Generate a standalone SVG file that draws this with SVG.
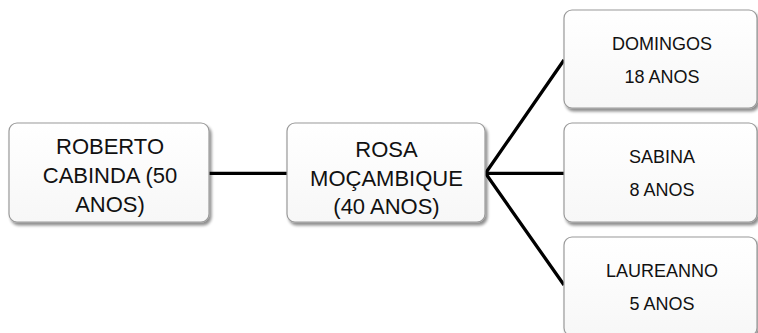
<svg xmlns="http://www.w3.org/2000/svg" width="758" height="333" viewBox="0 0 758 333">
<style>
.box{fill:url(#g);stroke:#9a9a9a;stroke-width:1.2;filter:url(#sh)}
.t{font-family:"Liberation Sans",Arial,sans-serif;fill:#111;text-anchor:middle}
.p{font-size:22px}
.c{font-size:18px}
.ln{stroke:#000;stroke-width:3.3;fill:none;stroke-linecap:butt}
</style>
<defs>
<linearGradient id="g" x1="0" y1="0" x2="0" y2="1">
<stop offset="0" stop-color="#ffffff"/>
<stop offset="1" stop-color="#f7f7f7"/>
</linearGradient>
<filter id="sh" x="-10%" y="-10%" width="125%" height="130%">
<feGaussianBlur in="SourceAlpha" stdDeviation="1.6"/>
<feOffset dx="1.5" dy="2.5" result="o"/>
<feComponentTransfer><feFuncA type="linear" slope="0.45"/></feComponentTransfer>
<feMerge><feMergeNode/><feMergeNode in="SourceGraphic"/></feMerge>
</filter>
</defs>
<rect width="758" height="333" fill="#fff"/>
<g id="connectors">
<line class="ln" x1="208" y1="173.3" x2="287" y2="173.3"/>
<polyline class="ln" points="564,60 485.5,173.3 564,285"/>
<line class="ln" x1="485.5" y1="173.3" x2="564" y2="173.3"/>
</g>
<g id="roberto">
<rect class="box" x="9" y="123" width="200" height="99" rx="8"/>
<text class="t p" x="110" y="154">ROBERTO</text>
<text class="t p" x="110" y="183">CABINDA (50</text>
<text class="t p" x="110" y="211.5">ANOS)</text>
</g>
<g id="rosa">
<rect class="box" x="287" y="123" width="198" height="99" rx="8"/>
<text class="t p" x="386.5" y="157">ROSA</text>
<text class="t p" x="386.5" y="186">MOÇAMBIQUE</text>
<text class="t p" x="386.5" y="214">(40 ANOS)</text>
</g>
<g id="domingos">
<rect class="box" x="564" y="10" width="193" height="98" rx="8"/>
<text class="t c" x="662" y="50">DOMINGOS</text>
<text class="t c" x="662" y="83">18 ANOS</text>
</g>
<g id="sabina">
<rect class="box" x="564" y="123" width="193" height="99" rx="8"/>
<text class="t c" x="662" y="163">SABINA</text>
<text class="t c" x="662" y="196">8 ANOS</text>
</g>
<g id="laureanno">
<rect class="box" x="564" y="237" width="193" height="99" rx="8"/>
<text class="t c" x="662" y="277">LAUREANNO</text>
<text class="t c" x="662" y="310">5 ANOS</text>
</g>
</svg>
